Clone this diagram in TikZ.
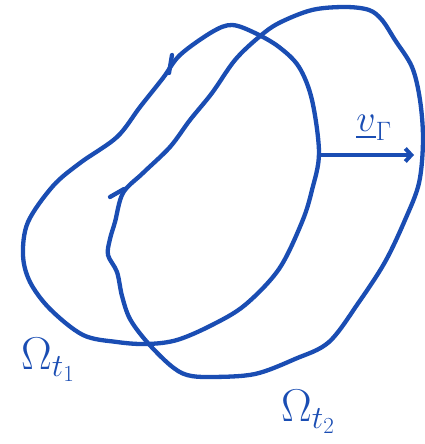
\RequirePackage{fix-cm}
\documentclass[tikz,border=0pt]{standalone}
\usepackage{amsmath,amssymb}
\usepackage{tikz}
\usetikzlibrary{arrows.meta}
\definecolor{penblue}{HTML}{1A4DB3}

\begin{document}
\begin{tikzpicture}[
  x=1pt, y=-1pt,
  pen/.style   = {draw=penblue, line width=4.3pt, line cap=round, line join=round},
  arr/.style   = {pen, -{Straight Barb[length=6pt,width=13pt,line width=4pt]}},
  lbl/.style   = {text=penblue, inner sep=0pt, font=\fontsize{46}{50}\selectfont},
]
\useasboundingbox (0,0) rectangle (425,444);
% domain at t_1
\draw[pen] plot[smooth cycle, tension=0.55] coordinates {
  (212,32) (232,25) (255,33) (279,47) (299,67) (312,100) (319,153)
  (312,190) (302,222) (279,269) (245,305) (212,325) (177,340) (147,344)
  (117,342) (83,335) (50,309) (30,282) (23,255) (28,222) (53,186)
  (80,163) (117,137) (140,107) (163,78) (180,55)};
% domain at t_2
\draw[pen] plot[smooth cycle, tension=0.55] coordinates {
  (212,93) (235,60) (259,37) (279,23) (312,10) (345,7) (369,10) (382,20)
  (395,40) (412,67) (420,100) (423,140) (419,183) (405,220) (385,262)
  (359,302) (329,342) (295,359) (255,374) (212,377) (187,375) (170,365)
  (147,342) (130,319) (122,296) (117,272) (108,255) (110,239) (115,222)
  (123,193) (143,173) (170,147) (190,120)};
% orientation ticks
\draw[pen] (172,55) -- (169,73);
\draw[pen] (110,197) -- (124,189);
% normal velocity
\coordinate (foot) at (319,155);
\coordinate (tip) at (414,155);
\draw[arr] (foot) -- (tip);
\node[lbl, font=\fontsize{38}{42}\selectfont] (vel) at (374,128) {$\underline{v}_{\Gamma}$};
% labels
\node[lbl] (om1) at (48,360) {$\Omega_{t_1}$};
\node[lbl] (om2) at (308,412) {$\Omega_{t_2}$};
\end{tikzpicture}
\end{document}
